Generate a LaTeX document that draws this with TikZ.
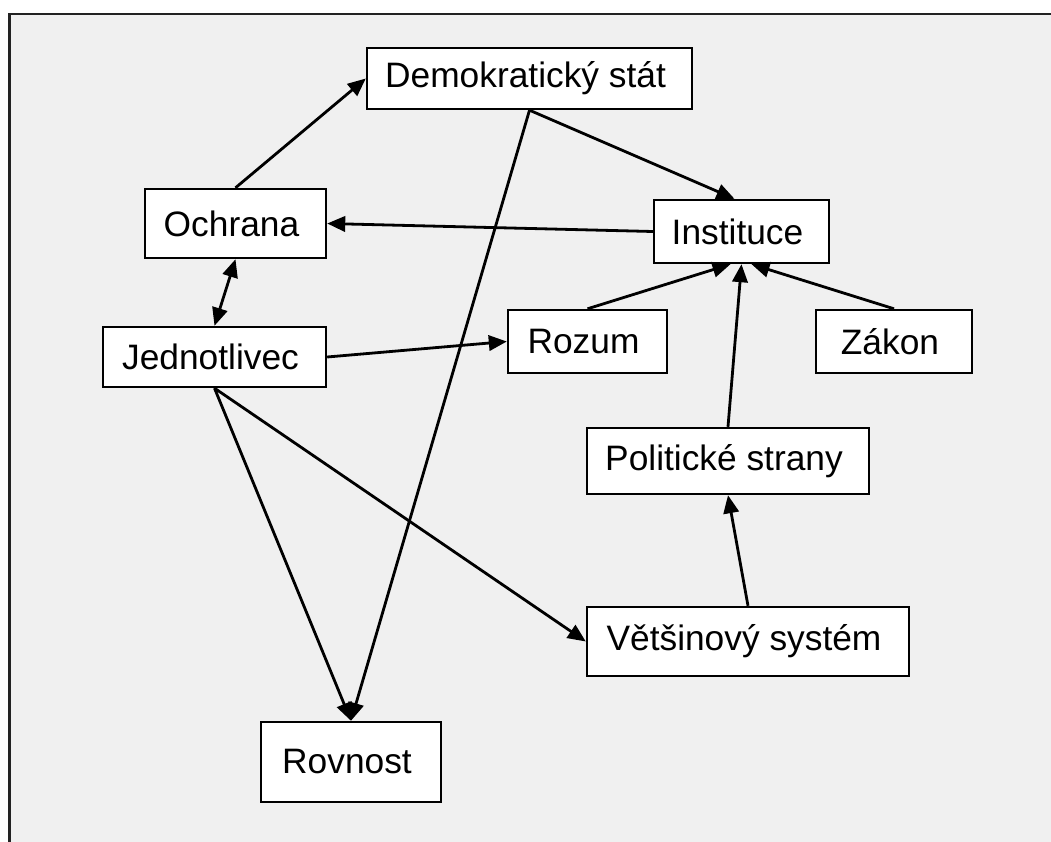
\documentclass[tikz,border=0pt]{standalone}
\usepackage{fontspec}
\setmainfont{Liberation Sans}
\usetikzlibrary{arrows.meta,calc}

\definecolor{panel}{HTML}{F0F0F0}
\definecolor{frameline}{HTML}{222222}

\tikzset{
  concept/.style={draw=black, line width=1.8pt, fill=white, inner sep=0pt,
                  font=\fontsize{26.5pt}{31pt}\selectfont},
  sz/.style 2 args={minimum width=#1*0.75pt, minimum height=#2*0.75pt},
  link/.style={line width=2.1pt, -{Triangle[length=13.5pt,width=11.5pt]}},
  twoway/.style={line width=2.1pt, {Triangle[length=13.5pt,width=11.5pt]}-{Triangle[length=13.5pt,width=11.5pt]}}
}

\begin{document}
\begin{tikzpicture}[x=0.75pt, y=-0.75pt]
  % page and grey panel with its top and left rules
  \useasboundingbox (0,0) rectangle (1051,842);
  \fill[white] (0,0) rectangle (1051,842);
  \fill[panel] (9.5,14) rectangle (1051,842);
  \draw[frameline, line width=1.8pt] (9.5,842) -- (9.5,14) -- (1051,14);

  % concepts
  \node[concept, sz={325}{61}]  (ds)   at (529.5,78.5) {Demokratický stát\hspace*{6pt}};
  \node[concept, sz={181}{69}]  (och)  at (235.5,223.5) {Ochrana\hspace*{6pt}};
  \node[concept, sz={175}{63}]  (inst) at (741.5,231.5) {Instituce\hspace*{6pt}};
  \node[concept, sz={223}{60}]  (jed)  at (214.5,357) {Jednotlivec\hspace*{6pt}};
  \node[concept, sz={159}{63}]  (roz)  at (587.5,341.5) {Rozum\hspace*{6pt}};
  \node[concept, sz={156}{63}]  (zak)  at (894,341.5) {Zákon\hspace*{6pt}};
  \node[concept, sz={282}{66}]  (pol)  at (728,461) {Politické strany\hspace*{6pt}};
  \node[concept, sz={322}{69}]  (vet)  at (748,641.5) {Většinový systém\hspace*{6pt}};
  \node[concept, sz={180}{80}]  (rov)  at (351,762) {Rovnost\hspace*{6pt}};

  % relations
  \draw[link] (och.north) -- (ds.west);
  \draw[link] (ds.south) -- ($(inst.north)+(-7,0)$);
  \draw[link] (ds.south) -- (rov.north);
  \draw[link] (inst.west) -- (och.east);
  \draw[twoway] (och.south) -- (jed.north);
  \draw[link] (jed.east) -- (roz.west);
  \draw[link] (jed.south) -- (rov.north);
  \draw[link] (jed.south) -- (vet.west);
  \draw[link] (roz.north) -- ($(inst.south)+(-11,0)$);
  \draw[link] (pol.north) -- (inst.south);
  \draw[link] (zak.north) -- ($(inst.south)+(10,0)$);
  \draw[link] (vet.north) -- (pol.south);
\end{tikzpicture}
\end{document}
